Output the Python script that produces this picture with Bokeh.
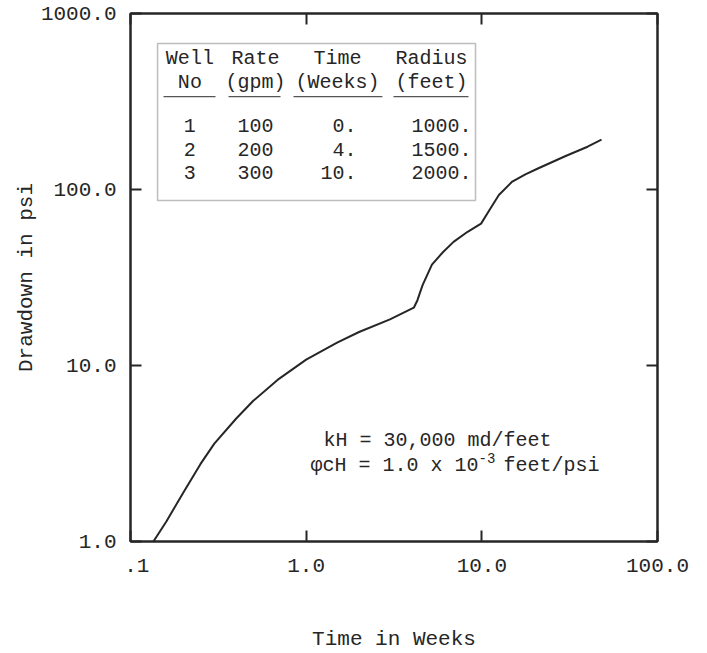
from bokeh.plotting import figure
from bokeh.models import (FixedTicker, LogAxis, BoxAnnotation, Label,
                          ColumnDataSource, Range1d)
from bokeh.core.properties import value
from bokeh.embed import file_html
from bokeh.resources import INLINE

# Superposed drawdown of three wells
weeks = [0.135, 0.16, 0.2, 0.25, 0.3, 0.4, 0.5, 0.7, 1.0, 1.5, 2.0, 3.0,
         4.1, 4.3, 4.6, 5.2, 6.0, 6.9, 8.3, 9.9, 11.1, 12.5, 14.9, 17.7,
         21.0, 30.0, 40.0, 48.0]
drawdown_psi = [1.0, 1.3, 1.9, 2.75, 3.6, 5.0, 6.3, 8.4, 10.8, 13.5, 15.5,
                18.3, 21.3, 23.5, 28.6, 37.4, 44.0, 50.4, 57.5, 64.0, 77.0,
                93.0, 111.0, 122.0, 132.0, 155.0, 175.0, 192.0]

# Well schedule table
well_no = ["1", "2", "3"]
rate_gpm = ["100", "200", "300"]
start_weeks = ["0.", "4.", "10."]
radius_feet = ["1000.", "1500.", "2000."]
headers_top = ["Well", "Rate", "Time", "Radius"]
headers_bottom = ["No", "(gpm)", "(Weeks)", "(feet)"]

# Axis ticks
x_ticks = [0.1, 1, 10, 100]
x_tick_labels = ["\u00a0.1", "1.0", "10.0", "100.0"]
y_ticks = [1, 10, 100, 1000]
y_tick_labels = ["1.0", "10.0", "100.0", "1000.0"]

FONT = "Liberation Mono"
INK = "#262626"


def at(lx, ly):
    """Position given in decades (log10 of the axis values)."""
    return 10 ** lx, 10 ** ly


p = figure(width=707, height=653, x_axis_type="log", y_axis_type="log",
           x_range=Range1d(0.1, 100), y_range=Range1d(1, 1000),
           output_backend="svg", toolbar_location=None,
           min_border_left=130, min_border_right=50,
           min_border_top=13, min_border_bottom=112,
           background_fill_color="white", border_fill_color="white")
p.grid.visible = False
p.outline_line_color = INK
p.outline_line_width = 2


def style_axis(ax, ticks, labels, show_labels=True):
    ax.ticker = FixedTicker(ticks=ticks)
    ax.major_label_overrides = {t: (l if show_labels else "")
                                for t, l in zip(ticks, labels)}
    ax.major_tick_in = 11
    ax.major_tick_out = 0
    ax.minor_tick_in = 0
    ax.minor_tick_out = 0
    ax.major_tick_line_color = INK
    ax.major_tick_line_width = 2
    ax.axis_line_color = INK
    ax.axis_line_width = 2
    ax.major_label_text_font = FONT
    ax.major_label_text_font_size = "21px"
    ax.major_label_text_color = INK
    ax.axis_label_text_font = FONT
    ax.axis_label_text_font_size = "21px"
    ax.axis_label_text_font_style = "normal"
    ax.axis_label_text_color = INK


xa = p.xaxis[0]
style_axis(xa, x_ticks, x_tick_labels)
xa.axis_label = "Time in Weeks"
xa.major_label_standoff = 13
xa.axis_label_standoff = 47

ya = p.yaxis[0]
style_axis(ya, y_ticks, y_tick_labels)
ya.axis_label = "Drawdown in psi"
ya.major_label_standoff = 14
ya.axis_label_standoff = 0

top_axis = LogAxis()
style_axis(top_axis, x_ticks, x_tick_labels, show_labels=False)
p.add_layout(top_axis, "above")
right_axis = LogAxis()
style_axis(right_axis, y_ticks, y_tick_labels, show_labels=False)
p.add_layout(right_axis, "right")

# Drawdown curve
p.line(x="weeks", y="psi",
       source=ColumnDataSource(dict(weeks=weeks, psi=drawdown_psi)),
       line_color=INK, line_width=2)

# Well schedule table
l, t = at(-0.846, 2.830)
r, b = at(0.964, 1.9375)
p.add_layout(BoxAnnotation(left=l, right=r, top=t, bottom=b,
                           fill_alpha=0, line_color=INK, line_width=1.5))

col_centre = [-0.662, -0.2886, 0.178, 0.713]
col_right = [None, None, 0.286, 0.941]
row_y = [2.364, 2.230, 2.097]
columns = [well_no, rate_gpm, start_weeks, radius_feet]

for i in range(4):
    hx, h1 = at(col_centre[i], 2.744)
    _, h2 = at(col_centre[i], 2.608)
    p.text(x=[hx, hx], y=[h1, h2], text=[headers_top[i], headers_bottom[i]],
           text_font=value(FONT), text_font_size="20px", text_color=INK,
           text_align="center", text_baseline="middle")
    if col_right[i] is None:
        vx, align = hx, "center"
    else:
        vx, align = 10 ** col_right[i], "right"
    p.text(x=[vx] * 3, y=[10 ** v for v in row_y], text=columns[i],
           text_font=value(FONT), text_font_size="20px", text_color=INK,
           text_align=align, text_baseline="middle")

# underlines under the header columns
ul_left = [-0.812, -0.442, -0.072, 0.497]
ul_right = [-0.516, -0.146, 0.434, 0.924]
ul_y = 10 ** 2.528
p.segment(x0=[10 ** v for v in ul_left], x1=[10 ** v for v in ul_right],
          y0=[ul_y] * 4, y1=[ul_y] * 4, line_color="#555555", line_width=1.2)


# Reservoir properties note
def note(text, lx, ly, size="20px"):
    x, y = at(lx, ly)
    p.add_layout(Label(x=x, y=y, text=text, text_font=FONT,
                       text_font_size=size, text_color=INK,
                       text_align="left", text_baseline="middle"))


note("kH = 30,000 md/feet", 0.098, 0.574)
note("\u03c6cH = 1.0 x 10", 0.0245, 0.432)
note("-3", 0.981, 0.474, size="14px")
note("feet/psi", 1.123, 0.432)

open("out.html", "w").write(file_html(p, INLINE))
